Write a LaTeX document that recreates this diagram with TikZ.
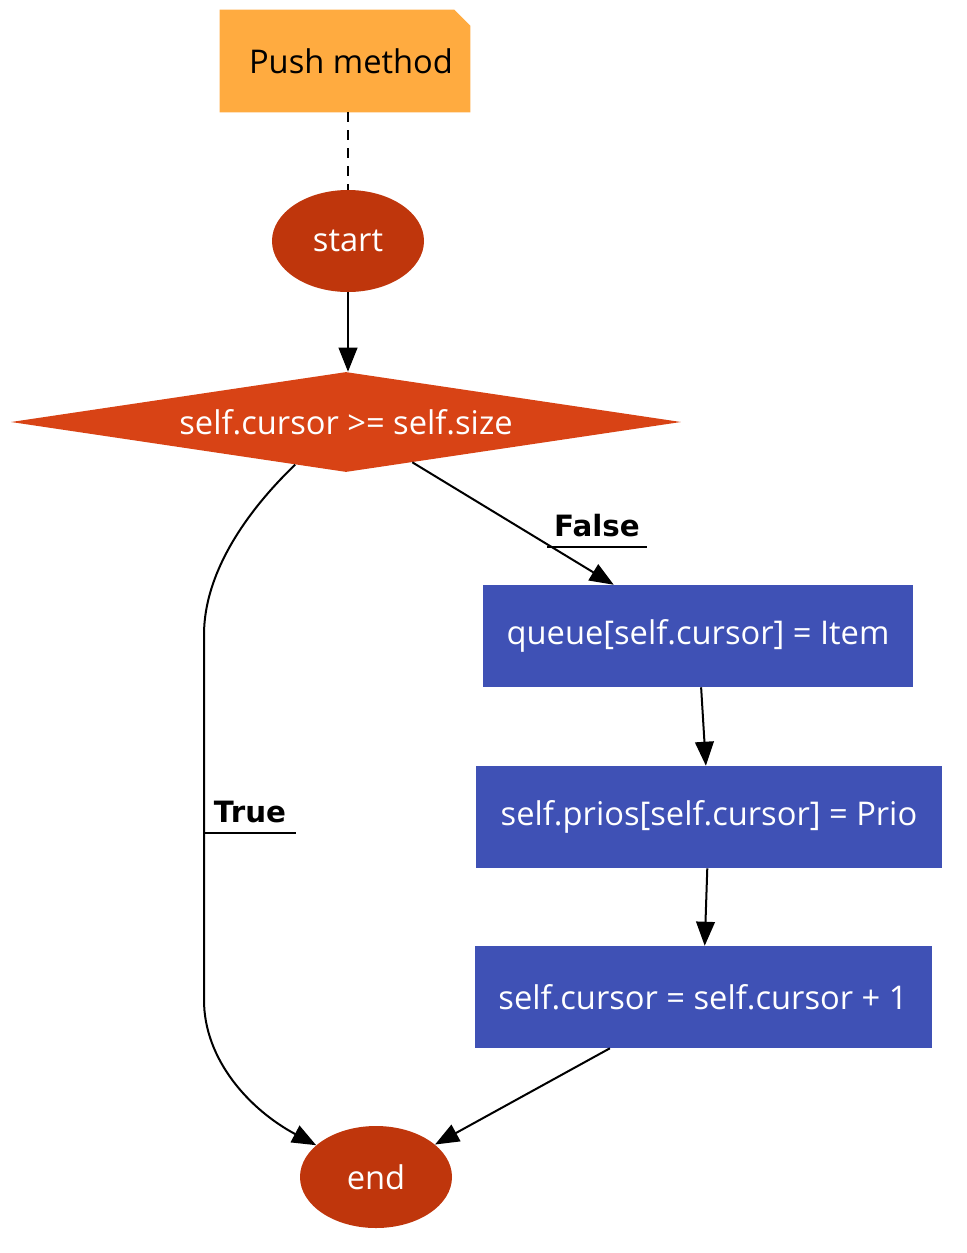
\documentclass[tikz,border=0pt]{standalone}
\usepackage{fontspec}
\setmainfont{Open Sans}
\newfontfamily\lblfont{DejaVu Sans}
\usetikzlibrary{arrows.meta,shapes.geometric,backgrounds}
\definecolor{notefill}{HTML}{FFAB40}
\definecolor{term}{HTML}{BF360C}
\definecolor{dec}{HTML}{D84315}
\definecolor{act}{HTML}{3F51B5}

\begin{document}
\begin{tikzpicture}[
  x=0.75pt,y=-0.75pt,
  font=\fontsize{24.5}{29}\selectfont,
  notebox/.style={rectangle, inner sep=0pt, minimum width=187.5pt, minimum height=76.5pt, text=black},
  termnode/.style={ellipse, fill=term, text=white, inner sep=0pt, minimum width=114pt, minimum height=76.5pt},
  decnode/.style={diamond, fill=dec, text=white, inner sep=0pt, aspect=6.7, minimum width=502.5pt, minimum height=75pt},
  actbox/.style={rectangle, fill=act, text=white, inner sep=0pt, minimum height=76.5pt},
  edgelbl/.style={font=\lblfont\bfseries\fontsize{22}{26}\selectfont, inner ysep=0pt, inner xsep=5pt, anchor=base},
  flowarr/.style={-{Triangle[length=18pt,width=14pt]}, line width=1.5pt},
]
\useasboundingbox (0,0) rectangle (967,1253);
% nodes
\node[notebox] (pm) at (345,61) {\hspace*{9pt}Push method};
\node[termnode] (st) at (348,241) {start};
\node[decnode] (cond) at (346,422) {self.cursor >= self.size};
\node[actbox,minimum width=322.5pt] (qset) at (698,636) {queue[self.cursor] = Item};
\node[actbox,minimum width=349.5pt] (pset) at (709,817) {self.prios[self.cursor] = Prio};
\node[actbox,minimum width=342.75pt] (cinc) at (703,997) {self.cursor = self.cursor + 1};
\node[termnode] (fin) at (376,1177) {end};
% folded note
\begin{scope}[on background layer]
\fill[notefill] (pm.south west) -- (pm.north west) -- ([xshift=-12pt]pm.north east) -- ([yshift=-12pt]pm.north east) -- (pm.south east) -- cycle;
\end{scope}
% edges
\draw[dashed,dash pattern=on 7.5pt off 6pt,line width=1.5pt] (pm.south -| st) -- (st);
\draw[flowarr] (st) -- (st |- cond.north);
\draw[flowarr] (cond) -- (qset);
\draw[flowarr] (qset) -- (pset);
\draw[flowarr] (pset) -- (cinc);
\draw[flowarr] (cinc) -- (fin);
\coordinate (tb1) at (204,635);
\coordinate (tb2) at (204,1000);
\draw[flowarr] (cond.220) .. controls (250,508) and (204,570) .. (tb1) -- (tb2) .. controls (204,1060) and (250,1110) .. (fin);
% labels
\node[edgelbl] (lf) at (597,536) {False};
\draw[line width=1.5pt] ([yshift=-8.5pt]lf.base west) -- ([yshift=-8.5pt]lf.base east);
\node[edgelbl,inner xsep=7pt] (lt) at (250,822) {True};
\draw[line width=1.5pt] ([yshift=-8.5pt]lt.base west) -- ([yshift=-8.5pt]lt.base east);
\end{tikzpicture}
\end{document}
